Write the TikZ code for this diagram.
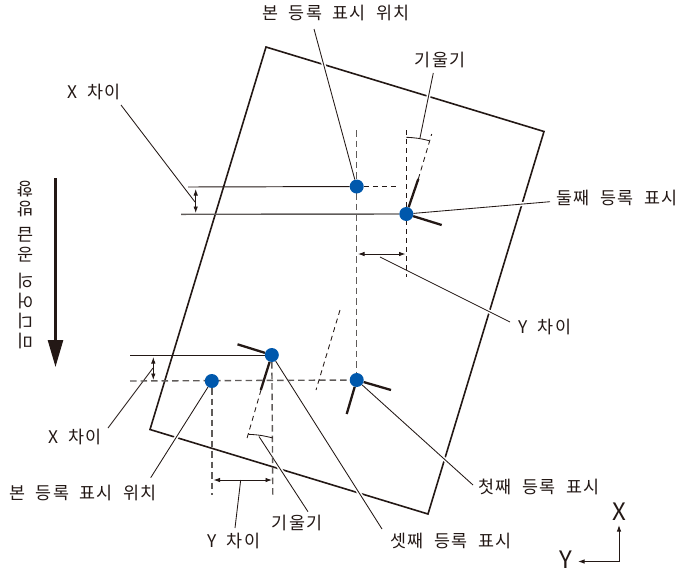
\documentclass[tikz,border=0pt]{standalone}
\usepackage{fontspec}
\setmainfont[LetterSpace=10,WordSpace=1.8]{Noto Sans CJK KR}
\newfontfamily\axisfont{Noto Sans CJK KR}
\usetikzlibrary{arrows.meta, backgrounds}
\definecolor{inkdark}{HTML}{231815}
\definecolor{guidegray}{HTML}{5F5B59}
\definecolor{markblue}{HTML}{0058AC}
\begin{document}
\begin{tikzpicture}[
      x=1pt, y=-1pt,
      >={Latex[length=6.5pt,width=4.5pt]},
      lbl/.style={inner sep=0pt, text=inkdark, font=\fontsize{17.4}{20}\selectfont},
      axislbl/.style={inner sep=0pt, text=inkdark, font=\axisfont\fontsize{24}{26}\selectfont},
      sheetedge/.style={draw=inkdark, line width=1.6pt, line join=miter},
      leader/.style={draw=inkdark, line width=0.85pt,
        preaction={draw=white, line width=4pt}},
      guide/.style={draw=inkdark, line width=0.85pt, dash pattern=on 5pt off 4pt},
      guidegrey/.style={draw=guidegray, line width=1.4pt, dash pattern=on 6.5pt off 4pt},
      dimline/.style={<->, draw=inkdark, line width=0.85pt},
      markdot/.style={circle, fill=markblue, inner sep=0pt, minimum size=14pt},
      markarm/.style={draw=inkdark, line width=2.3pt}
    ]
      \useasboundingbox (0,0) rectangle (679,571);

      % labels
      \node[lbl] (basetoptxt) at (336,13) {본 등록 표시 위치};
      \node[lbl] (tilttoptxt) at (440,60) {기울기};
      \node[lbl] (secondtxt) at (617,198) {둘째 등록 표시};
      \node[lbl] (ydifftoptxt) at (545,327) {Y 차이};
      \node[lbl] (xdifftoptxt) at (94,92) {X 차이};
      \node[lbl] (xdifflowtxt) at (75,437) {X 차이};
      \node[lbl] (baselowtxt) at (83,493) {본 등록 표시 위치};
      \node[lbl] (firsttxt) at (539,487) {첫째 등록 표시};
      \node[lbl] (ydifflowtxt) at (234,541) {Y 차이};
      \node[lbl] (tiltlowtxt) at (297,523) {기울기};
      \node[lbl] (thirdtxt) at (451,541) {셋째 등록 표시};
      \node[lbl, rotate=180, align=center]
        (feedtxt) at (25,265) {미\\디\\어\\의\\[6pt]공\\급\\[6pt]방\\향};
      \node[axislbl] (axisx) at (619,512) {X};
      \node[axislbl] (axisy) at (566,560) {Y};

      % marks
      \node[markdot] (basetop) at (356.7,186.5) {};
      \node[markdot] (second) at (406.3,214) {};
      \node[markdot] (third) at (271.8,355) {};
      \node[markdot] (baselow) at (211.8,381) {};
      \node[markdot] (first) at (356.7,380) {};

      % sheet
      \coordinate (sheetnw) at (266,47);
      \coordinate (sheetne) at (544,131.5);
      \coordinate (sheetse) at (428,514);
      \coordinate (sheetsw) at (150,429.5);

      % leader ends
      \coordinate (basetopend) at (314,29);
      \coordinate (tilttopend) at (433.3,73);
      \coordinate (tilttopfoot) at (420,137.8);
      \coordinate (secondend) at (550,201.7);
      \coordinate (ydifftopa) at (380,257);
      \coordinate (ydifftopb) at (510,322);
      \coordinate (xdifftopa) at (121,105);
      \coordinate (xdifftopb) at (195,202);
      \coordinate (xdifflowa) at (108,428);
      \coordinate (xdifflowb) at (153,368);
      \coordinate (baselowend) at (150.7,477.7);
      \coordinate (firstend) at (473,485);
      \coordinate (ydifflowa) at (235,528);
      \coordinate (ydifflowb) at (240.7,480);
      \coordinate (tiltlowa) at (308,511.7);
      \coordinate (tiltlowb) at (259,436.5);
      \coordinate (thirdend) at (382,529);

      % guide lines
      \coordinate (guideatop) at (356.7,130);
      \coordinate (guidebtop) at (406.3,130);
      \coordinate (guidebend) at (406.3,277);
      \coordinate (guidehend) at (399,186.5);
      \coordinate (guideleft) at (130,381);
      \coordinate (guidedend) at (211.8,495);
      \coordinate (guidecend) at (272.8,495);
      \coordinate (tilttopa) at (418.3,179);
      \coordinate (tilttopb) at (431.7,134);
      \coordinate (tiltmida) at (340,310);
      \coordinate (tiltmidb) at (316,390);
      \coordinate (thirdarma) at (261,390);
      \coordinate (thirdarmb) at (246,441.7);

      % tilt arcs
      \coordinate (arctopa) at (406.3,137.3);
      \coordinate (arctopb) at (429.3,140.7);
      \coordinate (arclowa) at (248.3,434.3);
      \coordinate (arclowb) at (272.8,438);

      % offset lines
      \coordinate (xtopa) at (188,187);
      \coordinate (xtopb) at (181,214.3);
      \coordinate (xlowa) at (130,355);

      % dimensions
      \coordinate (dimxtopa) at (195.7,189);
      \coordinate (dimxtopb) at (195.7,213);
      \coordinate (dimxlowa) at (153.3,357);
      \coordinate (dimxlowb) at (153.3,380);
      \coordinate (dimytopa) at (358,254);
      \coordinate (dimytopb) at (405.5,254);
      \coordinate (dimylowa) at (213.5,480);
      \coordinate (dimylowb) at (272,480);

      % registration arms
      \coordinate (secondup) at (418.3,179);
      \coordinate (secondright) at (441.7,225);
      \coordinate (thirdleft) at (237.5,344.3);
      \coordinate (thirddown) at (260.8,390);
      \coordinate (firstright) at (391,390);
      \coordinate (firstdown) at (346.7,414);

      % feed arrow
      \coordinate (feedtop) at (55.5,178);
      \coordinate (feedtip) at (55.5,367);

      % axes
      \coordinate (axiscorner) at (619,561.5);
      \coordinate (axistipx) at (619,525);
      \coordinate (axistipy) at (578,561.5);

      \begin{scope}[on background layer]
        \draw[sheetedge] (sheetnw) -- (sheetne) -- (sheetse) -- (sheetsw) -- cycle;

        \draw[leader] (basetopend) -- (basetop);
        \draw[leader] (tilttopend) -- (tilttopfoot);
        \draw[leader] (secondend) -- (second);
        \draw[leader] (ydifftopa) -- (ydifftopb);
        \draw[leader] (xdifftopa) -- (xdifftopb);
        \draw[leader] (xdifflowa) -- (xdifflowb);
        \draw[leader] (baselowend) -- (baselow);
        \draw[leader] (firstend) -- (first);
        \draw[leader] (ydifflowa) -- (ydifflowb);
        \draw[leader] (tiltlowa) -- (tiltlowb);
        \draw[leader] (thirdend) -- (third);

        \draw[guidegrey] (guideatop) -- (first);
        \draw[guide] (guidebtop) -- (guidebend);
        \draw[guide] (basetop) -- (guidehend);
        \draw[guidegrey] (guideleft) -- (first);
        \draw[guidegrey] (baselow) -- (guidedend);
        \draw[guidegrey] (third) -- (guidecend);
        \draw[guide] (tilttopa) -- (tilttopb);
        \draw[guide] (tiltmida) -- (tiltmidb);
        \draw[guide] (thirdarma) -- (thirdarmb);

        \draw[draw=inkdark, line width=0.85pt] (arctopa) to[bend left=6] (arctopb);
        \draw[draw=inkdark, line width=0.85pt] (arclowa) to[bend left=6] (arclowb);

        \draw[draw=inkdark, line width=0.95pt] (xtopa) -- (basetop);
        \draw[draw=guidegray, line width=1.4pt] (xtopb) -- (second);
        \draw[draw=inkdark, line width=0.95pt] (xlowa) -- (third);

        \draw[dimline] (dimxtopa) -- (dimxtopb);
        \draw[dimline] (dimxlowa) -- (dimxlowb);
        \draw[dimline] (dimytopa) -- (dimytopb);
        \draw[dimline] (dimylowa) -- (dimylowb);

        \draw[markarm] (second) -- (secondup);
        \draw[markarm] (second) -- (secondright);
        \draw[markarm] (third) -- (thirdleft);
        \draw[markarm] (third) -- (thirddown);
        \draw[markarm] (first) -- (firstright);
        \draw[markarm] (first) -- (firstdown);

        \draw[-{Triangle[length=27pt,width=15pt]}, draw=inkdark, fill=inkdark, line width=2.6pt]
          (feedtop) -- (feedtip);

        \draw[->, draw=inkdark, line width=0.95pt] (axiscorner) -- (axistipx);
        \draw[->, draw=inkdark, line width=0.95pt] (axiscorner) -- (axistipy);
      \end{scope}
    \end{tikzpicture}
\end{document}
